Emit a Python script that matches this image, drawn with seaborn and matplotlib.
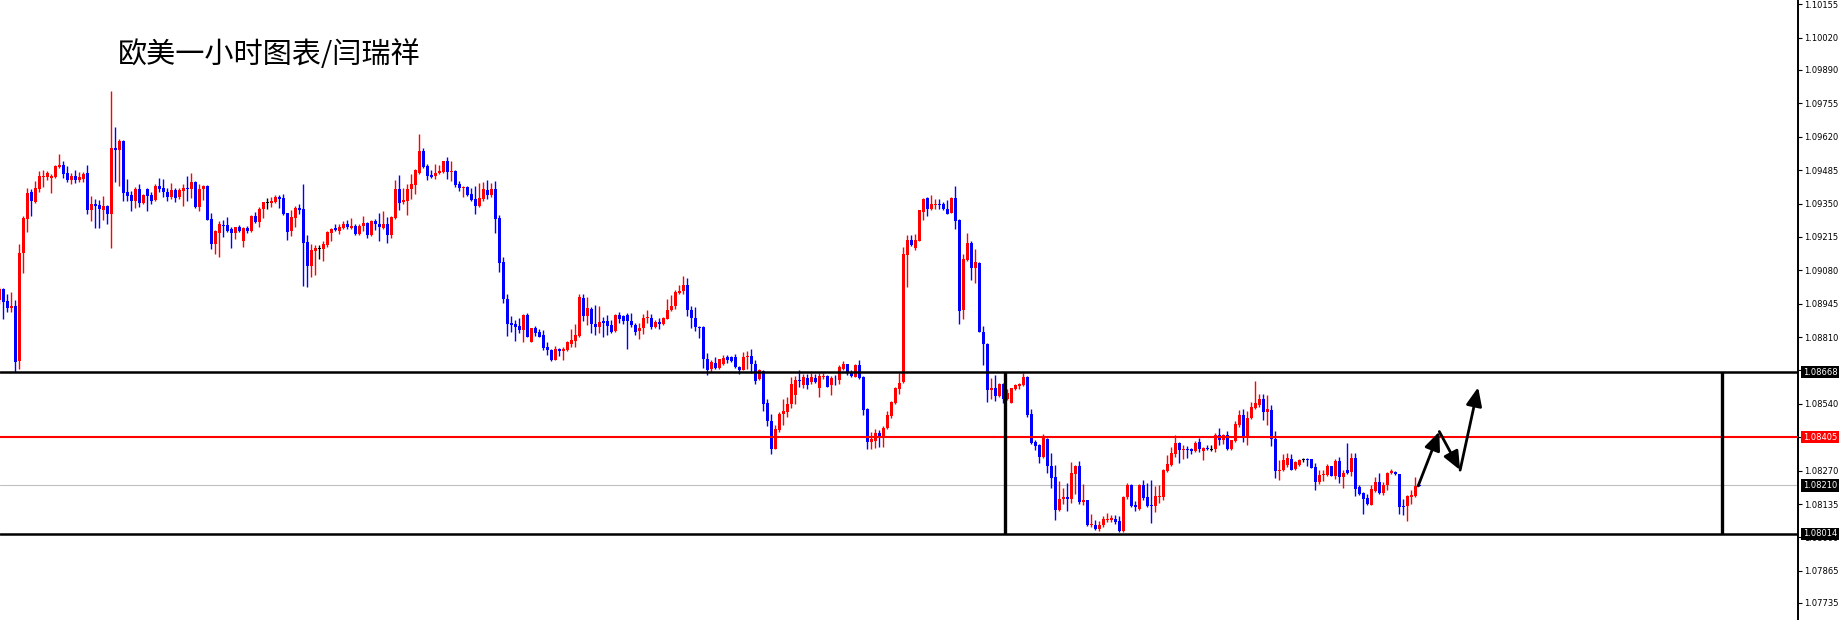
import numpy as np
import matplotlib
matplotlib.use("Agg")
import matplotlib.pyplot as plt
import matplotlib.transforms as mtransforms
import seaborn as sns

sns.set_theme(style="white")
plt.rcParams['font.family'] = ['DejaVu Sans']

title = "欧美一小时图表/闫瑞祥"

# EURUSD 1h candles (oldest first)
opens = [
    1.08959, 1.09006, 1.08954, 1.08927, 1.08934, 1.08713, 1.09148, 1.09288, 1.09396, 1.09355,
    1.09409, 1.09458, 1.09458, 1.09454, 1.09458, 1.09497, 1.09505, 1.09472, 1.09445, 1.09463,
    1.09447, 1.09451, 1.09473, 1.09323, 1.09350, 1.09343, 1.09323, 1.09339, 1.09307, 1.09573,
    1.09566, 1.09602, 1.09396, 1.09384, 1.09361, 1.09408, 1.09353, 1.09408, 1.09384, 1.09364,
    1.09420, 1.09412, 1.09396, 1.09376, 1.09404, 1.09376, 1.09401, 1.09414, 1.09408, 1.09436,
    1.09337, 1.09407, 1.09422, 1.09287, 1.09187, 1.09231, 1.09264, 1.09262, 1.09246, 1.09231,
    1.09254, 1.09197, 1.09250, 1.09238, 1.09299, 1.09274, 1.09326, 1.09354, 1.09353, 1.09357,
    1.09378, 1.09372, 1.09310, 1.09239, 1.09293, 1.09332, 1.09327, 1.09193, 1.09097, 1.09158,
    1.09170, 1.09166, 1.09181, 1.09231, 1.09251, 1.09239, 1.09251, 1.09266, 1.09252, 1.09260,
    1.09225, 1.09258, 1.09270, 1.09221, 1.09278, 1.09269, 1.09252, 1.09266, 1.09221, 1.09293,
    1.09410, 1.09356, 1.09360, 1.09408, 1.09424, 1.09475, 1.09561, 1.09501, 1.09464, 1.09460,
    1.09474, 1.09476, 1.09521, 1.09478, 1.09480, 1.09428, 1.09413, 1.09416, 1.09387, 1.09367,
    1.09339, 1.09367, 1.09403, 1.09383, 1.09408, 1.09290, 1.09112, 1.08966, 1.08865, 1.08861,
    1.08855, 1.08837, 1.08901, 1.08792, 1.08845, 1.08832, 1.08820, 1.08768, 1.08758, 1.08719,
    1.08760, 1.08753, 1.08757, 1.08784, 1.08796, 1.08816, 1.08970, 1.08897, 1.08924, 1.08861,
    1.08850, 1.08876, 1.08876, 1.08858, 1.08833, 1.08901, 1.08894, 1.08901, 1.08876, 1.08860,
    1.08833, 1.08847, 1.08886, 1.08889, 1.08849, 1.08872, 1.08864, 1.08885, 1.08918, 1.08934,
    1.08990, 1.08995, 1.09022, 1.08921, 1.08889, 1.08852, 1.08852, 1.08723, 1.08682, 1.08706,
    1.08686, 1.08700, 1.08731, 1.08731, 1.08731, 1.08690, 1.08677, 1.08728, 1.08735, 1.08702,
    1.08639, 1.08674, 1.08544, 1.08471, 1.08359, 1.08436, 1.08500, 1.08508, 1.08538, 1.08577,
    1.08633, 1.08615, 1.08644, 1.08628, 1.08644, 1.08606, 1.08648, 1.08652, 1.08615, 1.08642,
    1.08638, 1.08682, 1.08700, 1.08665, 1.08650, 1.08696, 1.08650, 1.08520, 1.08384, 1.08390,
    1.08422, 1.08412, 1.08442, 1.08492, 1.08544, 1.08599, 1.08630, 1.09143, 1.09203, 1.09170,
    1.09200, 1.09317, 1.09373, 1.09326, 1.09344, 1.09349, 1.09349, 1.09328, 1.09312, 1.09373,
    1.09284, 1.08921, 1.09122, 1.09191, 1.09089, 1.09111, 1.08829, 1.08782, 1.08595, 1.08603,
    1.08572, 1.08619, 1.08559, 1.08544, 1.08599, 1.08612, 1.08616, 1.08649, 1.08498, 1.08384,
    1.08372, 1.08325, 1.08398, 1.08288, 1.08244, 1.08110, 1.08155, 1.08163, 1.08157, 1.08255,
    1.08288, 1.08142, 1.08153, 1.08049, 1.08052, 1.08032, 1.08049, 1.08071, 1.08072, 1.08076,
    1.08066, 1.08025, 1.08163, 1.08211, 1.08129, 1.08113, 1.08211, 1.08164, 1.08130, 1.08126,
    1.08164, 1.08164, 1.08269, 1.08291, 1.08336, 1.08381, 1.08353, 1.08356, 1.08356, 1.08349,
    1.08385, 1.08349, 1.08361, 1.08357, 1.08356, 1.08416, 1.08392, 1.08416, 1.08356, 1.08389,
    1.08456, 1.08496, 1.08412, 1.08483, 1.08523, 1.08537, 1.08559, 1.08506, 1.08515, 1.08398,
    1.08269, 1.08271, 1.08291, 1.08318, 1.08276, 1.08294, 1.08314, 1.08315, 1.08315, 1.08284,
    1.08224, 1.08251, 1.08251, 1.08287, 1.08247, 1.08309, 1.08244, 1.08274, 1.08264, 1.08321,
    1.08204, 1.08180, 1.08161, 1.08132, 1.08188, 1.08223, 1.08180, 1.08212, 1.08260, 1.08264,
    1.08255, 1.08126, 1.08126, 1.08164, 1.08167, 1.08212,
]
highs = [
    1.09013, 1.09010, 1.08983, 1.08991, 1.08959, 1.09185, 1.09300, 1.09413, 1.09408, 1.09440,
    1.09481, 1.09485, 1.09481, 1.09469, 1.09505, 1.09550, 1.09523, 1.09501, 1.09472, 1.09485,
    1.09477, 1.09478, 1.09505, 1.09380, 1.09368, 1.09364, 1.09380, 1.09345, 1.09805, 1.09659,
    1.09611, 1.09607, 1.09449, 1.09401, 1.09415, 1.09431, 1.09388, 1.09411, 1.09396, 1.09427,
    1.09455, 1.09449, 1.09411, 1.09435, 1.09411, 1.09412, 1.09428, 1.09463, 1.09473, 1.09440,
    1.09427, 1.09424, 1.09424, 1.09310, 1.09242, 1.09278, 1.09283, 1.09295, 1.09256, 1.09256,
    1.09265, 1.09256, 1.09260, 1.09303, 1.09314, 1.09337, 1.09358, 1.09373, 1.09377, 1.09384,
    1.09384, 1.09388, 1.09312, 1.09323, 1.09339, 1.09347, 1.09428, 1.09221, 1.09185, 1.09181,
    1.09181, 1.09197, 1.09240, 1.09252, 1.09266, 1.09269, 1.09278, 1.09282, 1.09290, 1.09266,
    1.09266, 1.09298, 1.09275, 1.09282, 1.09286, 1.09310, 1.09320, 1.09296, 1.09300, 1.09447,
    1.09464, 1.09412, 1.09431, 1.09468, 1.09488, 1.09630, 1.09576, 1.09509, 1.09485, 1.09511,
    1.09505, 1.09524, 1.09537, 1.09521, 1.09485, 1.09441, 1.09422, 1.09422, 1.09412, 1.09420,
    1.09433, 1.09436, 1.09444, 1.09432, 1.09440, 1.09302, 1.09132, 1.08985, 1.08895, 1.08880,
    1.08888, 1.08904, 1.08909, 1.08848, 1.08853, 1.08841, 1.08837, 1.08789, 1.08761, 1.08772,
    1.08764, 1.08769, 1.08796, 1.08841, 1.08861, 1.08986, 1.08986, 1.08971, 1.08930, 1.08938,
    1.08934, 1.08891, 1.08898, 1.08878, 1.08905, 1.08912, 1.08898, 1.08909, 1.08909, 1.08868,
    1.08868, 1.08902, 1.08918, 1.08902, 1.08878, 1.08887, 1.08893, 1.08962, 1.08979, 1.08999,
    1.09022, 1.09059, 1.09047, 1.08934, 1.08930, 1.08855, 1.08855, 1.08747, 1.08716, 1.08731,
    1.08723, 1.08739, 1.08739, 1.08733, 1.08743, 1.08693, 1.08750, 1.08755, 1.08763, 1.08718,
    1.08682, 1.08675, 1.08558, 1.08500, 1.08455, 1.08507, 1.08558, 1.08569, 1.08648, 1.08651,
    1.08675, 1.08662, 1.08662, 1.08666, 1.08662, 1.08666, 1.08666, 1.08655, 1.08652, 1.08655,
    1.08696, 1.08712, 1.08702, 1.08675, 1.08701, 1.08718, 1.08653, 1.08523, 1.08426, 1.08439,
    1.08436, 1.08452, 1.08511, 1.08551, 1.08609, 1.08664, 1.09176, 1.09223, 1.09223, 1.09227,
    1.09325, 1.09373, 1.09376, 1.09385, 1.09369, 1.09369, 1.09355, 1.09365, 1.09376, 1.09421,
    1.09287, 1.09146, 1.09230, 1.09200, 1.09166, 1.09114, 1.08854, 1.08786, 1.08644, 1.08656,
    1.08624, 1.08626, 1.08599, 1.08606, 1.08619, 1.08626, 1.08666, 1.08651, 1.08518, 1.08395,
    1.08376, 1.08417, 1.08400, 1.08342, 1.08291, 1.08228, 1.08201, 1.08218, 1.08306, 1.08292,
    1.08309, 1.08214, 1.08153, 1.08095, 1.08071, 1.08066, 1.08086, 1.08099, 1.08090, 1.08090,
    1.08086, 1.08168, 1.08219, 1.08214, 1.08146, 1.08215, 1.08231, 1.08218, 1.08231, 1.08207,
    1.08211, 1.08278, 1.08332, 1.08365, 1.08416, 1.08384, 1.08372, 1.08369, 1.08361, 1.08389,
    1.08403, 1.08365, 1.08372, 1.08374, 1.08421, 1.08443, 1.08419, 1.08432, 1.08394, 1.08472,
    1.08515, 1.08519, 1.08512, 1.08546, 1.08633, 1.08579, 1.08579, 1.08577, 1.08537, 1.08432,
    1.08314, 1.08338, 1.08341, 1.08338, 1.08309, 1.08315, 1.08322, 1.08322, 1.08318, 1.08300,
    1.08271, 1.08271, 1.08298, 1.08288, 1.08318, 1.08327, 1.08271, 1.08381, 1.08341, 1.08341,
    1.08211, 1.08184, 1.08175, 1.08211, 1.08244, 1.08262, 1.08224, 1.08264, 1.08278, 1.08267,
    1.08258, 1.08157, 1.08171, 1.08191, 1.08244, 1.08214,
]
lows = [
    1.08945, 1.08884, 1.08911, 1.08911, 1.08668, 1.08682, 1.09071, 1.09235, 1.09300, 1.09353,
    1.09397, 1.09415, 1.09445, 1.09393, 1.09455, 1.09494, 1.09454, 1.09438, 1.09431, 1.09434,
    1.09438, 1.09438, 1.09307, 1.09280, 1.09251, 1.09251, 1.09285, 1.09266, 1.09170, 1.09438,
    1.09422, 1.09361, 1.09361, 1.09320, 1.09332, 1.09334, 1.09347, 1.09320, 1.09347, 1.09360,
    1.09397, 1.09377, 1.09361, 1.09368, 1.09357, 1.09370, 1.09341, 1.09361, 1.09374, 1.09330,
    1.09320, 1.09364, 1.09283, 1.09165, 1.09145, 1.09134, 1.09215, 1.09235, 1.09170, 1.09208,
    1.09235, 1.09175, 1.09229, 1.09235, 1.09272, 1.09256, 1.09292, 1.09327, 1.09337, 1.09354,
    1.09331, 1.09303, 1.09202, 1.09219, 1.09256, 1.09307, 1.09016, 1.09012, 1.09053, 1.09061,
    1.09125, 1.09117, 1.09174, 1.09198, 1.09239, 1.09225, 1.09248, 1.09248, 1.09246, 1.09221,
    1.09221, 1.09239, 1.09209, 1.09217, 1.09243, 1.09197, 1.09247, 1.09189, 1.09209, 1.09286,
    1.09322, 1.09347, 1.09304, 1.09367, 1.09387, 1.09471, 1.09493, 1.09444, 1.09455, 1.09448,
    1.09471, 1.09475, 1.09448, 1.09440, 1.09417, 1.09401, 1.09377, 1.09379, 1.09359, 1.09306,
    1.09336, 1.09360, 1.09367, 1.09377, 1.09229, 1.09075, 1.08947, 1.08816, 1.08832, 1.08796,
    1.08827, 1.08792, 1.08809, 1.08789, 1.08816, 1.08811, 1.08757, 1.08739, 1.08715, 1.08716,
    1.08735, 1.08719, 1.08754, 1.08770, 1.08768, 1.08812, 1.08877, 1.08857, 1.08828, 1.08820,
    1.08828, 1.08809, 1.08817, 1.08828, 1.08830, 1.08867, 1.08864, 1.08760, 1.08852, 1.08817,
    1.08801, 1.08824, 1.08868, 1.08844, 1.08848, 1.08844, 1.08860, 1.08882, 1.08914, 1.08925,
    1.08986, 1.08983, 1.08894, 1.08848, 1.08836, 1.08806, 1.08685, 1.08655, 1.08669, 1.08682,
    1.08682, 1.08698, 1.08706, 1.08709, 1.08686, 1.08662, 1.08675, 1.08682, 1.08666, 1.08621,
    1.08638, 1.08513, 1.08452, 1.08338, 1.08358, 1.08426, 1.08455, 1.08486, 1.08524, 1.08540,
    1.08608, 1.08605, 1.08601, 1.08621, 1.08624, 1.08569, 1.08642, 1.08608, 1.08577, 1.08615,
    1.08621, 1.08678, 1.08658, 1.08647, 1.08647, 1.08642, 1.08493, 1.08358, 1.08358, 1.08363,
    1.08365, 1.08367, 1.08439, 1.08482, 1.08540, 1.08579, 1.08625, 1.09014, 1.09180, 1.09164,
    1.09198, 1.09285, 1.09301, 1.09322, 1.09326, 1.09328, 1.09322, 1.09308, 1.09311, 1.09247,
    1.08863, 1.08883, 1.09116, 1.09041, 1.09029, 1.08829, 1.08697, 1.08548, 1.08559, 1.08552,
    1.08566, 1.08545, 1.08555, 1.08543, 1.08595, 1.08599, 1.08613, 1.08488, 1.08376, 1.08352,
    1.08299, 1.08322, 1.08259, 1.08198, 1.08072, 1.08107, 1.08136, 1.08106, 1.08140, 1.08174,
    1.08136, 1.08133, 1.08048, 1.08044, 1.08030, 1.08025, 1.08041, 1.08063, 1.08063, 1.08055,
    1.08022, 1.08022, 1.08156, 1.08124, 1.08106, 1.08110, 1.08153, 1.08124, 1.08060, 1.08104,
    1.08140, 1.08151, 1.08265, 1.08288, 1.08327, 1.08301, 1.08319, 1.08322, 1.08338, 1.08346,
    1.08345, 1.08314, 1.08352, 1.08349, 1.08345, 1.08372, 1.08378, 1.08352, 1.08352, 1.08385,
    1.08448, 1.08385, 1.08372, 1.08479, 1.08519, 1.08528, 1.08475, 1.08455, 1.08368, 1.08240,
    1.08234, 1.08268, 1.08284, 1.08271, 1.08274, 1.08290, 1.08305, 1.08288, 1.08280, 1.08191,
    1.08217, 1.08227, 1.08248, 1.08247, 1.08238, 1.08220, 1.08200, 1.08255, 1.08247, 1.08166,
    1.08171, 1.08094, 1.08129, 1.08129, 1.08184, 1.08175, 1.08171, 1.08191, 1.08255, 1.08251,
    1.08093, 1.08090, 1.08067, 1.08137, 1.08164, 1.08206,
]
closes = [
    1.09006, 1.08952, 1.08927, 1.08934, 1.08709, 1.09148, 1.09292, 1.09391, 1.09361, 1.09411,
    1.09461, 1.09461, 1.09472, 1.09461, 1.09503, 1.09505, 1.09470, 1.09445, 1.09463, 1.09445,
    1.09458, 1.09469, 1.09323, 1.09350, 1.09342, 1.09326, 1.09339, 1.09307, 1.09573, 1.09566,
    1.09602, 1.09393, 1.09380, 1.09361, 1.09408, 1.09353, 1.09384, 1.09381, 1.09361, 1.09420,
    1.09409, 1.09396, 1.09377, 1.09403, 1.09373, 1.09404, 1.09412, 1.09409, 1.09436, 1.09335,
    1.09408, 1.09422, 1.09284, 1.09187, 1.09237, 1.09266, 1.09260, 1.09239, 1.09231, 1.09254,
    1.09239, 1.09250, 1.09239, 1.09300, 1.09274, 1.09328, 1.09355, 1.09354, 1.09359, 1.09377,
    1.09369, 1.09308, 1.09235, 1.09296, 1.09332, 1.09323, 1.09190, 1.09097, 1.09161, 1.09170,
    1.09170, 1.09185, 1.09233, 1.09246, 1.09242, 1.09254, 1.09266, 1.09254, 1.09260, 1.09225,
    1.09260, 1.09270, 1.09221, 1.09278, 1.09266, 1.09255, 1.09266, 1.09221, 1.09297, 1.09410,
    1.09352, 1.09363, 1.09410, 1.09428, 1.09485, 1.09561, 1.09498, 1.09462, 1.09457, 1.09475,
    1.09480, 1.09521, 1.09478, 1.09480, 1.09424, 1.09412, 1.09417, 1.09383, 1.09363, 1.09339,
    1.09371, 1.09408, 1.09383, 1.09408, 1.09286, 1.09109, 1.08962, 1.08861, 1.08857, 1.08850,
    1.08837, 1.08901, 1.08812, 1.08845, 1.08828, 1.08812, 1.08764, 1.08757, 1.08718, 1.08760,
    1.08753, 1.08760, 1.08789, 1.08800, 1.08820, 1.08974, 1.08897, 1.08928, 1.08861, 1.08850,
    1.08869, 1.08868, 1.08853, 1.08831, 1.08901, 1.08885, 1.08876, 1.08874, 1.08858, 1.08831,
    1.08848, 1.08889, 1.08889, 1.08849, 1.08872, 1.08864, 1.08889, 1.08921, 1.08937, 1.08991,
    1.08998, 1.09022, 1.08918, 1.08886, 1.08849, 1.08849, 1.08720, 1.08677, 1.08710, 1.08686,
    1.08721, 1.08727, 1.08716, 1.08714, 1.08687, 1.08677, 1.08731, 1.08735, 1.08702, 1.08633,
    1.08675, 1.08540, 1.08469, 1.08359, 1.08439, 1.08500, 1.08512, 1.08540, 1.08621, 1.08636,
    1.08632, 1.08648, 1.08615, 1.08650, 1.08628, 1.08652, 1.08652, 1.08610, 1.08644, 1.08639,
    1.08690, 1.08700, 1.08666, 1.08651, 1.08698, 1.08646, 1.08517, 1.08384, 1.08396, 1.08423,
    1.08412, 1.08444, 1.08493, 1.08547, 1.08605, 1.08626, 1.09146, 1.09203, 1.09184, 1.09203,
    1.09322, 1.09369, 1.09328, 1.09349, 1.09349, 1.09344, 1.09326, 1.09309, 1.09373, 1.09281,
    1.08917, 1.09126, 1.09191, 1.09089, 1.09114, 1.08831, 1.08782, 1.08595, 1.08603, 1.08572,
    1.08619, 1.08559, 1.08583, 1.08606, 1.08616, 1.08619, 1.08649, 1.08493, 1.08380, 1.08368,
    1.08325, 1.08400, 1.08288, 1.08241, 1.08110, 1.08157, 1.08163, 1.08155, 1.08259, 1.08288,
    1.08142, 1.08153, 1.08049, 1.08052, 1.08034, 1.08052, 1.08076, 1.08076, 1.08079, 1.08061,
    1.08025, 1.08165, 1.08211, 1.08126, 1.08122, 1.08211, 1.08161, 1.08126, 1.08128, 1.08167,
    1.08167, 1.08271, 1.08295, 1.08341, 1.08381, 1.08352, 1.08357, 1.08352, 1.08348, 1.08382,
    1.08358, 1.08361, 1.08356, 1.08357, 1.08416, 1.08392, 1.08416, 1.08356, 1.08392, 1.08459,
    1.08496, 1.08412, 1.08483, 1.08528, 1.08542, 1.08559, 1.08506, 1.08519, 1.08398, 1.08269,
    1.08274, 1.08314, 1.08322, 1.08274, 1.08304, 1.08314, 1.08314, 1.08313, 1.08282, 1.08224,
    1.08251, 1.08254, 1.08287, 1.08248, 1.08309, 1.08244, 1.08260, 1.08262, 1.08321, 1.08195,
    1.08175, 1.08154, 1.08134, 1.08195, 1.08223, 1.08180, 1.08211, 1.08260, 1.08268, 1.08255,
    1.08124, 1.08124, 1.08167, 1.08171, 1.08209, 1.08210,
]

# right price scale (1.08675 and 1.08405 sit under the level boxes)
tick_values = [1.10155, 1.10020, 1.09890, 1.09755, 1.09620, 1.09485, 1.09350, 1.09215,
               1.09080, 1.08945, 1.08810, 1.08675, 1.08540, 1.08405, 1.08270, 1.08135,
               1.08000, 1.07865, 1.07735]
hidden_ticks = [1.08675, 1.08405]

# analyst drawings
resistance = 1.08668
middle = 1.08405
support = 1.08014
last_price = 1.08210
box_left, box_right = 251.4, 430.7          # in candle-index units
arrow_x = [354.7, 360.0, 365.2, 369.7]
arrow_y = [1.08208, 1.08428, 1.08272, 1.08607]

o = np.array(opens)
h = np.array(highs)
l = np.array(lows)
c = np.array(closes)
x = np.arange(len(c))

colors = np.where(c > o, '#ff0000', np.where(c < o, '#0000ff', '#000000'))

body_low = np.minimum(o, c)
body_h = np.abs(c - o)
min_h = 0.00004
thin = body_h < min_h
body_low = np.where(thin, body_low - (min_h - body_h) / 2, body_low)
body_h = np.where(thin, min_h, body_h)

fig = plt.figure(figsize=(18.42, 6.2), dpi=100)
ax = fig.add_axes([0, 0, 1798 / 1842, 1])
ax.set_facecolor('white')

ax.axhline(last_price, color='#c0c0c0', lw=0.8, zorder=1)

ax.vlines(x, l, h, colors=colors, lw=1.0, zorder=2)
ax.bar(x, body_h, bottom=body_low, width=0.8, color=colors, linewidth=0, zorder=3)

ax.axhline(resistance, color='black', lw=1.8, zorder=4)
ax.axhline(support, color='black', lw=1.8, zorder=4)
ax.axhline(middle, color='#ff0000', lw=1.5, zorder=4)
ax.vlines([box_left, box_right], support, resistance, colors='black', lw=2.4, zorder=4)

for i in range(len(arrow_x) - 1):
    ax.annotate('', xy=(arrow_x[i + 1], arrow_y[i + 1]), xytext=(arrow_x[i], arrow_y[i]),
                arrowprops=dict(arrowstyle='-|>,head_length=0.7,head_width=0.3',
                                color='black', lw=2, shrinkA=0, shrinkB=0,
                                mutation_scale=16), zorder=6)

ax.set_xlim(0.17, 449.67)
ax.set_ylim(1.07666, 1.10173)

for s in ['top', 'left', 'bottom']:
    ax.spines[s].set_visible(False)
ax.spines['right'].set_color('black')
ax.spines['right'].set_linewidth(1.4)

ax.set_xticks([])
ax.yaxis.tick_right()
ax.set_yticks(tick_values)
ax.set_yticklabels(["" if v in hidden_ticks else f"{v:.5f}" for v in tick_values])
ax.tick_params(axis='y', direction='out', length=3, width=0.8, color='black',
               labelsize=6, pad=1.5, labelcolor='black', right=True, left=False)
ax.grid(False)

trans = mtransforms.blended_transform_factory(ax.transAxes, ax.transData)
for level, fc in [(resistance, 'black'), (middle, '#ff0000'),
                  (last_price, 'black'), (support, 'black')]:
    ax.text(1.0028, level, f"{level:.5f}", transform=trans, ha='left', va='center',
            fontsize=6, color='white', clip_on=False, zorder=10,
            bbox=dict(boxstyle='square,pad=0.2', fc=fc, ec='none'))

fig.text(118 / 1842, 1 - 54.5 / 620, title, fontsize=21, color='black',
         family=['Noto Sans CJK SC', 'DejaVu Sans'], ha='left', va='center')

fig.savefig('out.png', dpi=100)
